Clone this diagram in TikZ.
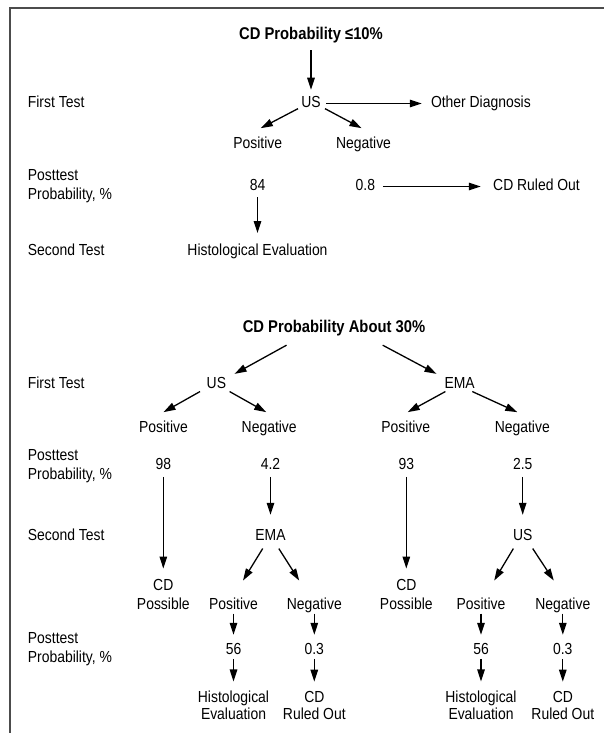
\documentclass[tikz,border=0pt]{standalone}
\usepackage{fontspec}
\setmainfont[FakeStretch=0.87]{Liberation Sans}
\usetikzlibrary{arrows.meta}

\begin{document}
\begin{tikzpicture}[x=1pt,y=-1pt,
        mytext/.style={inner sep=0pt,font=\fontsize{16}{17}\selectfont,text height=11.7pt,text depth=3.4pt},
        mytwo/.style={inner sep=0pt,font=\fontsize{16}{17}\selectfont,align=center},
        mytitle/.style={inner sep=0pt,font=\fontsize{17}{18}\selectfont\bfseries,text height=12.4pt,text depth=3.6pt},
        myarrow/.style={-{Triangle[length=12pt,width=7.5pt]},line width=1.3pt}]

        \useasboundingbox (0,0) rectangle (603,733);

        %frame
        \draw [line width=2pt, black!70] (9.5,734) |- (604,8);

        %titles
        \node[mytitle] (t1) at (311,35.5) {CD Probability ≤10\%};
        \node[mytitle] (t2) at (334,328.2) {CD Probability About 30\%};

        %row labels
        \node[mytext,anchor=west] (first1) at (27.7,103.2) {First Test};
        \node[mytwo,align=left,anchor=west] (post1) at (27.7,186.4) {Posttest\\[1.5pt]Probability, \%};
        \node[mytext,anchor=west] (second1) at (27.7,251.5) {Second Test};
        \node[mytext,anchor=west] (first2) at (27.7,384.2) {First Test};
        \node[mytwo,align=left,anchor=west] (post2) at (27.7,466) {Posttest\\[1.5pt]Probability, \%};
        \node[mytext,anchor=west] (second2) at (27.7,536.5) {Second Test};
        \node[mytwo,align=left,anchor=west] (post3) at (27.7,649.3) {Posttest\\[1.5pt]Probability, \%};

        %upper tree
        \node[mytext] (us1) at (311,103.5) {US};
        \node[mytext,anchor=west] (oth) at (430.8,103.5) {Other Diagnosis};
        \node[mytext] (pos1) at (257.7,144.8) {Positive};
        \node[mytext] (neg1) at (363.5,144.8) {Negative};
        \node[mytext] (p84) at (257.5,186.5) {84};
        \node[mytext] (p08) at (365.4,186.5) {0.8};
        \node[mytext,anchor=west] (rul1) at (493,186.5) {CD Ruled Out};
        \node[mytext] (his1) at (257.5,251.5) {Histological Evaluation};

        %lower tree, first test
        \node[mytext] (us2) at (216.4,384.2) {US};
        \node[mytext] (ema2) at (459.6,384.2) {EMA};
        \node[mytext] (pos2) at (163.5,428.2) {Positive};
        \node[mytext] (neg2) at (269.2,428.2) {Negative};
        \node[mytext] (pos3) at (405.8,428.2) {Positive};
        \node[mytext] (neg3) at (522.3,428.2) {Negative};
        \node[mytext] (p98) at (163.3,465.8) {98};
        \node[mytext] (p42) at (270.5,465.8) {4.2};
        \node[mytext] (p93) at (406.3,465.8) {93};
        \node[mytext] (p25) at (522.7,465.8) {2.5};

        %lower tree, second test
        \node[mytwo] (cdp1) at (163.3,594.4) {CD\\[2pt]Possible};
        \node[mytwo] (cdp2) at (406.3,594.4) {CD\\[2pt]Possible};
        \node[mytext] (ema3) at (270.5,536.5) {EMA};
        \node[mytext] (us3) at (522.7,536.5) {US};
        \node[mytext] (pos4) at (233.5,605.5) {Positive};
        \node[mytext] (neg4) at (314.3,605.5) {Negative};
        \node[mytext] (pos5) at (481,605.5) {Positive};
        \node[mytext] (neg5) at (562.8,605.5) {Negative};
        \node[mytext] (p56a) at (233.5,650.8) {56};
        \node[mytext] (p03a) at (314.3,650.8) {0.3};
        \node[mytext] (p56b) at (481,650.8) {56};
        \node[mytext] (p03b) at (562.8,650.8) {0.3};
        \node[mytwo] (his2) at (233.5,705) {Histological\\Evaluation};
        \node[mytwo] (rul2) at (314.3,705) {CD\\Ruled Out};
        \node[mytwo] (his3) at (481,705) {Histological\\Evaluation};
        \node[mytwo] (rul3) at (562.8,705) {CD\\Ruled Out};

        %upper arrows
        \draw [myarrow, shorten <=6.6pt, shorten >=6pt] (t1) -- (us1);
        \draw [myarrow, shorten <=5.5pt, shorten >=9pt] (us1) -- (oth);
        \draw [myarrow] ([xshift=-13pt,yshift=2.6pt]us1.south) -- ([xshift=3.1pt,yshift=8.9pt]pos1.north);
        \draw [myarrow] ([xshift=14pt,yshift=2.6pt]us1.south) -- ([xshift=-2pt,yshift=8.9pt]neg1.north);
        \draw [myarrow, shorten <=7.6pt, shorten >=12.2pt] (p08) -- (rul1);
        \draw [myarrow, shorten <=2.8pt, shorten >=10.7pt] (p84) -- (his1);

        %lower arrows, first test
        \draw [myarrow] ([xshift=-47.5pt,yshift=-8.8pt]t2.south) -- ([xshift=18.2pt,yshift=2.6pt]us2.north);
        \draw [myarrow] ([xshift=48.7pt,yshift=-8.8pt]t2.south) -- ([xshift=-23.1pt,yshift=2.6pt]ema2.north);
        \draw [myarrow] ([xshift=-16.4pt,yshift=0.4pt]us2.south) -- ([yshift=8.3pt]pos2.north);
        \draw [myarrow] ([xshift=13.2pt,yshift=0.4pt]us2.south) -- ([xshift=-3pt,yshift=8.3pt]neg2.north);
        \draw [myarrow] ([xshift=-14.2pt,yshift=0.4pt]ema2.south) -- ([xshift=1.9pt,yshift=8.3pt]pos3.north);
        \draw [myarrow] ([xshift=12.7pt,yshift=0.4pt]ema2.south) -- ([xshift=-5pt,yshift=8.3pt]neg3.north);

        %vertical arrows
        \draw [myarrow, shorten <=3.4pt, shorten >=10.5pt] (p98) -- (cdp1);
        \draw [myarrow, shorten <=3.4pt, shorten >=10.5pt] (p93) -- (cdp2);
        \draw [myarrow, shorten <=3.4pt, shorten >=14pt] (p42) -- (ema3);
        \draw [myarrow, shorten <=3.4pt, shorten >=14pt] (p25) -- (us3);

        %lower arrows, second test
        \draw [myarrow] ([xshift=-7.8pt,yshift=-4.3pt]ema3.south) -- ([xshift=9.5pt,yshift=17.2pt]pos4.north);
        \draw [myarrow] ([xshift=8.3pt,yshift=-4.3pt]ema3.south) -- ([xshift=-15.1pt,yshift=17.2pt]neg4.north);
        \draw [myarrow] ([xshift=-9.3pt,yshift=-4.3pt]us3.south) -- ([xshift=13.2pt,yshift=17.2pt]pos5.north);
        \draw [myarrow] ([xshift=10pt,yshift=-4.3pt]us3.south) -- ([xshift=-9pt,yshift=17.2pt]neg5.north);

        %short arrows
        \draw [myarrow, shorten <=0.4pt, shorten >=8.3pt] (pos4) -- (p56a);
        \draw [myarrow, shorten <=0.4pt, shorten >=8.3pt] (neg4) -- (p03a);
        \draw [myarrow, shorten <=0.4pt, shorten >=8.3pt] (pos5) -- (p56b);
        \draw [myarrow, shorten <=0.4pt, shorten >=8.3pt] (neg5) -- (p03b);
        \draw [myarrow, shorten <=0.2pt, shorten >=9pt] (p56a) -- (his2);
        \draw [myarrow, shorten <=0.2pt, shorten >=9pt] (p03a) -- (rul2);
        \draw [myarrow, shorten <=0.2pt, shorten >=9pt] (p56b) -- (his3);
        \draw [myarrow, shorten <=0.2pt, shorten >=9pt] (p03b) -- (rul3);
\end{tikzpicture}
\end{document}
